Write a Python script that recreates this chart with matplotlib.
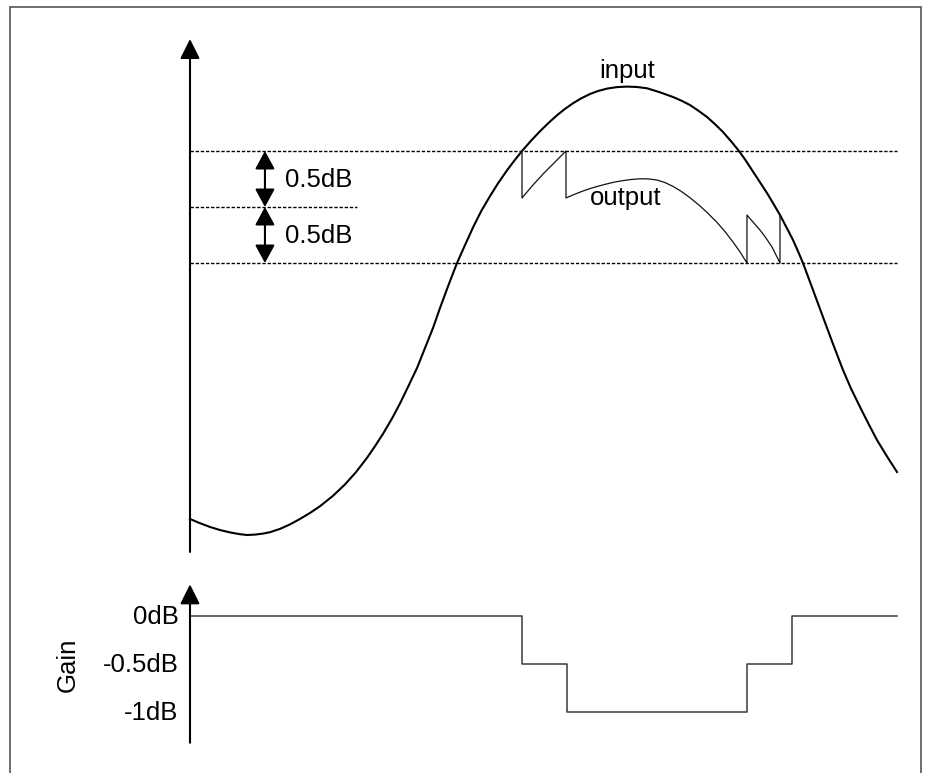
import matplotlib
matplotlib.use("Agg")
import matplotlib.pyplot as plt
from matplotlib.patches import Rectangle, ArrowStyle

plt.rcParams['font.family'] = ['Liberation Sans', 'DejaVu Sans']

# ---------------- data ----------------
# time axis: 0 .. 10 (arbitrary units), amplitude axis: arbitrary units
input_t = [0.000, 0.141, 0.283, 0.424, 0.566, 0.707, 0.806, 0.919, 1.033, 1.132,
           1.273, 1.414, 1.556, 1.697, 1.839, 2.023, 2.192, 2.348, 2.504, 2.617,
           2.730, 2.857, 2.970, 3.083, 3.211, 3.324, 3.437, 3.536, 3.649, 3.777,
           3.890, 4.003, 4.116, 4.243, 4.356, 4.484, 4.583, 4.696, 4.823, 4.950,
           5.064, 5.191, 5.304, 5.417, 5.530, 5.658, 5.771, 5.898, 6.040, 6.181,
           6.322, 6.464, 6.648, 6.832, 6.952, 7.072, 7.192, 7.313, 7.426, 7.539,
           7.652, 7.765, 7.850, 7.921, 8.034, 8.161, 8.246, 8.345, 8.444, 8.529,
           8.600, 8.670, 8.812, 8.953, 9.095, 9.236, 9.349, 9.477, 9.590, 9.717,
           9.859, 10.000]
input_amp = [1.429, 1.354, 1.286, 1.232, 1.189, 1.157, 1.143, 1.150, 1.168, 1.193,
             1.252, 1.332, 1.430, 1.536, 1.657, 1.843, 2.046, 2.266, 2.521, 2.729,
             2.950, 3.223, 3.491, 3.786, 4.125, 4.482, 4.839, 5.196, 5.582, 6.000,
             6.321, 6.634, 6.920, 7.193, 7.421, 7.655, 7.821, 8.000, 8.182, 8.352,
             8.493, 8.638, 8.752, 8.852, 8.938, 9.018, 9.071, 9.114, 9.141, 9.150,
             9.143, 9.120, 9.048, 8.964, 8.898, 8.821, 8.718, 8.607, 8.479, 8.339,
             8.175, 8.000, 7.850, 7.714, 7.496, 7.250, 7.071, 6.857, 6.620, 6.411,
             6.209, 6.000, 5.518, 5.036, 4.554, 4.089, 3.759, 3.429, 3.146, 2.839,
             2.545, 2.268]

output_t = [4.696, 4.696, 4.851, 5.007, 5.163, 5.318,
            5.318, 5.431, 5.545, 5.658, 5.771, 5.884, 5.997, 6.124, 6.238, 6.365,
            6.478, 6.605, 6.719, 6.832, 6.945, 7.072, 7.214, 7.327, 7.454, 7.567,
            7.680, 7.779, 7.878,
            7.878, 7.963, 8.062, 8.147, 8.232, 8.345, 8.345]
output_amp = [8.000, 7.161, 7.393, 7.607, 7.804, 8.000,
              7.161, 7.223, 7.279, 7.329, 7.371, 7.409, 7.443, 7.471, 7.491, 7.504,
              7.502, 7.482, 7.436, 7.368, 7.282, 7.166, 7.018, 6.886, 6.725, 6.561,
              6.375, 6.200, 6.000,
              6.857, 6.732, 6.589, 6.446, 6.286, 6.000, 6.857]

levels = [8.0, 7.0, 6.0]           # dashed threshold levels
level_ends = [10.0, 2.36, 10.0]    # where each dashed line stops
step_label = "0.5dB"

gain_t = [0.00, 4.70, 5.33, 7.88, 8.51, 10.00]
gain_db = [0.0, -0.5, -1.0, -0.5, 0.0, 0.0]
gain_ticks = [0.0, -0.5, -1.0]
gain_ticklabels = ["0dB", "-0.5dB", "-1dB"]

# ---------------- layout ----------------
W, H = 926, 773
fig = plt.figure(figsize=(W / 100, H / 100), dpi=100)

X0, SX = 190.0, 70.7          # pixel of t=0, pixels per time unit
A0, SA = 599.0, 56.0          # pixel of amp=0, pixels per amp unit
G0, SG = 616.0, 96.0          # pixel of 0 dB, pixels per dB

ax = fig.add_axes([0, 0, 1, 1])
ax.set_xlim(-X0 / SX, (W - X0) / SX)
ax.set_ylim((A0 - H) / SA, A0 / SA)
ax.axis('off')

axg = fig.add_axes([0, 0, 1, 1])
axg.set_xlim(-X0 / SX, (W - X0) / SX)
axg.set_ylim((G0 - H) / SG, G0 / SG)
axg.axis('off')
axg.patch.set_alpha(0)

fs = 18.5
head = ArrowStyle('-|>', head_length=0.6, head_width=0.3)
dhead = ArrowStyle('<|-|>', head_length=0.55, head_width=0.3)

# top axis arrow
ax.annotate('', xy=(0, 10.0), xytext=(0, 0.84),
            arrowprops=dict(arrowstyle=head, mutation_scale=20, lw=1.5, color='black',
                            shrinkA=0, shrinkB=0))

# dashed levels
for lv, end in zip(levels, level_ends):
    ax.plot([0, end], [lv, lv], color='black', lw=1.0, linestyle=(0, (2.4, 1.3)))

# input and output
ax.plot(input_t, input_amp, color='black', lw=1.5, solid_joinstyle='round')
ax.plot(output_t, output_amp, color='#111111', lw=0.9, solid_joinstyle='round')

ax.text(6.18, 9.30, "input", ha='center', va='baseline', fontsize=fs)
ax.text(5.66, 7.04, "output", ha='left', va='baseline', fontsize=fs)

# 0.5 dB double arrows
for hi, lo in zip(levels[:-1], levels[1:]):
    ax.annotate('', xy=(1.06, hi), xytext=(1.06, lo),
                arrowprops=dict(arrowstyle=dhead, mutation_scale=20, lw=1.5, color='black',
                                shrinkA=0, shrinkB=0))
    ax.text(1.34, (hi + lo) / 2 - 0.14, step_label, ha='left', va='baseline', fontsize=fs)

# gain panel
axg.annotate('', xy=(0, 0.33), xytext=(0, -1.32),
             arrowprops=dict(arrowstyle=head, mutation_scale=20, lw=1.5, color='black',
                             shrinkA=0, shrinkB=0))
axg.plot(gain_t, gain_db, drawstyle='steps-post', color='#3a3a3a', lw=1.1)
for g, lab in zip(gain_ticks, gain_ticklabels):
    axg.text(-0.16, g - 0.083, lab, ha='right', va='baseline', fontsize=fs)
axg.text(-1.73, -0.51, "Gain", rotation=90, ha='center', va='center', fontsize=fs)

# outer frame
fig.patches.append(Rectangle((10 / W, -0.05), (921 - 10) / W, 1.05 - 7 / H,
                             transform=fig.transFigure, fill=False,
                             edgecolor='#555555', lw=1.2))

fig.savefig("out.png", dpi=100)
